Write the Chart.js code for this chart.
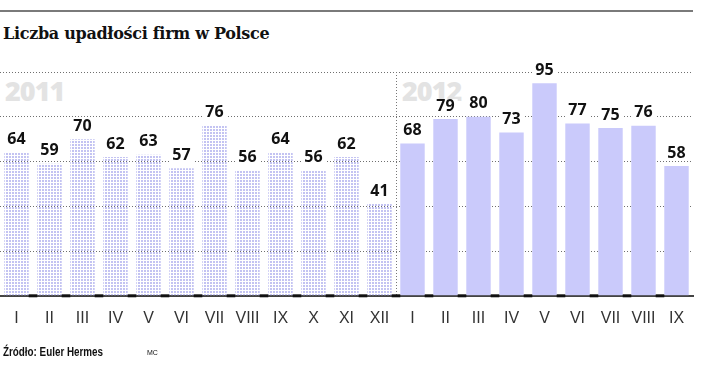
<!DOCTYPE html>
<html>
<head>
<meta charset="utf-8">
<script src="https://cdn.jsdelivr.net/npm/chart.js@4"></script>
<style>
  body { margin: 0; background: #fff; }
  #wrap { position: relative; width: 718px; height: 370px; overflow: hidden; }
  #topline { position: absolute; left: 0; top: 10px; width: 693px; height: 2px; background: #7a7a7a; }
  #title { position: absolute; left: 3px; top: 24px; font: bold 16px "DejaVu Serif", serif; color: #111; letter-spacing: -0.3px; }
  .year { position: absolute; top: 72px; font: 800 27px "Open Sans", sans-serif; color: #e3e3e3; letter-spacing: -1px; }
  #src { position: absolute; left: 3px; top: 345px; font: bold 12px "Liberation Sans", sans-serif; color: #111; transform: scaleX(0.82); transform-origin: left top; }
  #mc { position: absolute; left: 147px; top: 349px; font: 7px "Liberation Sans", sans-serif; color: #111; }
  canvas { position: absolute; left: 0; top: 0; }
</style>
</head>
<body>
<div id="wrap">
  <div id="topline"></div>
  <div id="title">Liczba upadłości firm w Polsce</div>
  <div class="year" style="left:5px">2011</div>
  <div class="year" style="left:402px">2012</div>
  <canvas id="chart" width="718" height="370"></canvas>
  <div id="src">Źródło: Euler Hermes</div>
  <div id="mc">MC</div>
</div>
<script>
// Sample Data
const months2011 = ['I', 'II', 'III', 'IV', 'V', 'VI', 'VII', 'VIII', 'IX', 'X', 'XI', 'XII'];
const months2012 = ['I', 'II', 'III', 'IV', 'V', 'VI', 'VII', 'VIII', 'IX'];
const values2011 = [64, 59, 70, 62, 63, 57, 76, 56, 64, 56, 62, 41];
const values2012 = [68, 79, 80, 73, 95, 77, 75, 76, 58];
const yTicks = [0, 20, 40, 60, 80, 100];

const labels = months2011.concat(months2012);
const values = values2011.concat(values2012);

// dotted fill for 2011 bars
function dotPattern() {
    const c = document.createElement('canvas');
    c.width = 3; c.height = 3;
    const g = c.getContext('2d');
    g.fillStyle = '#c3c3f2';
    g.fillRect(0, 0, 2, 2);
    return document.getElementById('chart').getContext('2d').createPattern(c, 'repeat');
}
const pattern = dotPattern();
const solid = '#cacafb';

const barExtras = {
    id: 'barExtras',
    // dotted separator between the two years
    beforeDatasetsDraw(chart) {
        const ctx = chart.ctx;
        const bars = chart.getDatasetMeta(0).data;
        const a = bars[values2011.length - 1], b = bars[values2011.length];
        const sx = Math.round((a.x + b.x) / 2) + 0.5;
        ctx.save();
        ctx.strokeStyle = '#777';
        ctx.lineWidth = 1;
        ctx.setLineDash([1, 2]);
        ctx.beginPath();
        ctx.moveTo(sx, chart.chartArea.top);
        ctx.lineTo(sx, chart.chartArea.bottom);
        ctx.stroke();
        ctx.restore();
    },
    // value labels + black marks on the baseline between bars
    afterDatasetsDraw(chart) {
        const ctx = chart.ctx;
        const bars = chart.getDatasetMeta(0).data;
        const base = chart.scales.y.getPixelForValue(0);
        ctx.save();
        ctx.strokeStyle = '#111';
        ctx.lineWidth = 3;
        for (let i = 0; i < bars.length - 1; i++) {
            ctx.beginPath();
            ctx.moveTo(bars[i].x + bars[i].width / 2, base);
            ctx.lineTo(bars[i + 1].x - bars[i + 1].width / 2, base);
            ctx.stroke();
        }
        ctx.font = 'bold 16px "Open Sans", sans-serif';
        ctx.textAlign = 'center';
        ctx.textBaseline = 'bottom';
        bars.forEach((bar, i) => {
            const txt = String(values[i]);
            const w = ctx.measureText(txt).width;
            const ty = bar.y - 5;
            ctx.fillStyle = '#fff';
            ctx.fillRect(bar.x - w / 2 - 3, ty - 15, w + 6, 14);
            ctx.fillStyle = '#111';
            ctx.fillText(txt, bar.x, ty);
        });
        ctx.restore();
    }
};

new Chart(document.getElementById('chart'), {
    type: 'bar',
    data: {
        labels: labels,
        datasets: [{
            data: values,
            backgroundColor: values.map((v, i) => i < values2011.length ? pattern : solid),
            categoryPercentage: 1,
            barPercentage: 0.74
        }]
    },
    options: {
        responsive: false,
        animation: false,
        layout: { padding: { left: 0, right: 25, top: 72, bottom: 29 } },
        plugins: { legend: { display: false }, tooltip: { enabled: false } },
        scales: {
            x: {
                offset: true,
                grid: { display: true, drawTicks: false, drawOnChartArea: false },
                border: { display: true, color: '#444', width: 2 },
                ticks: {
                    autoSkip: false,
                    maxRotation: 0,
                    padding: 13,
                    color: '#333',
                    font: { family: '"Liberation Sans Narrow", "Liberation Sans", sans-serif', size: 16 }
                }
            },
            y: {
                min: 0,
                max: 100,
                afterBuildTicks: axis => { axis.ticks = yTicks.map(v => ({ value: v })); },
                grid: {
                    drawTicks: false,
                    color: ctx => ctx.tick && ctx.tick.value === 0 ? 'transparent' : '#6f6f6f',
                    lineWidth: 1
                },
                border: { display: false, dash: [1, 2] },
                ticks: { display: false }
            }
        }
    },
    plugins: [barExtras]
});
</script>
</body>
</html>
